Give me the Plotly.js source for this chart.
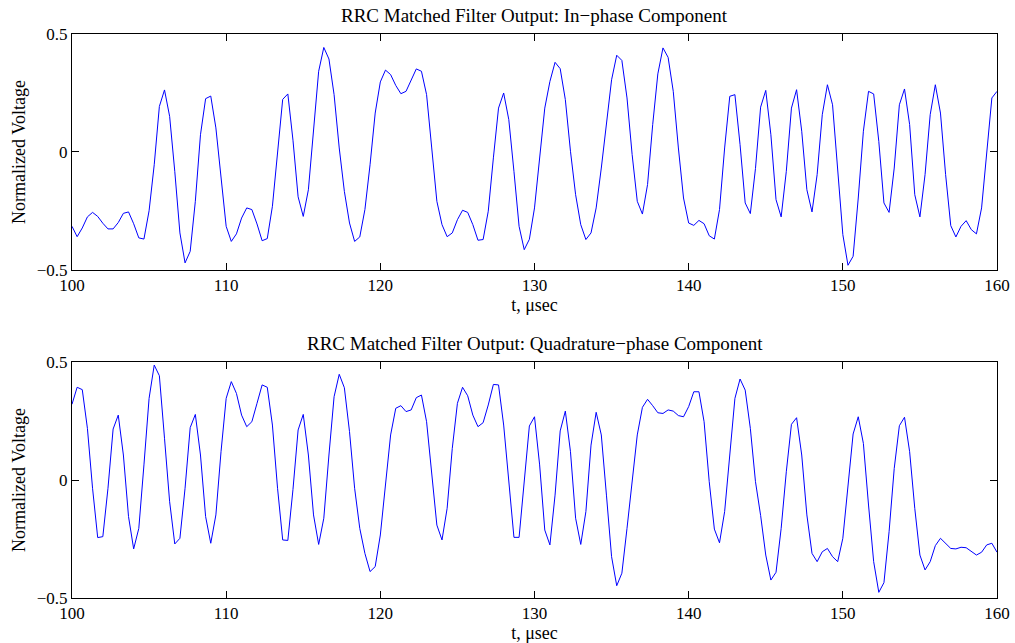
<!DOCTYPE html>
<html>
<head>
<meta charset="utf-8">
<script src="https://cdn.plot.ly/plotly-3.0.1.min.js"></script>
<style>html,body{margin:0;padding:0;background:#fff;}#chart{width:1015px;height:643px;}</style>
</head>
<body>
<div id="chart"></div>
<script>
// Sample grid: 3 samples per microsecond, starting at t = 100 µs
const tStart = 100;
const samplesPerUs = 3;

// In-phase component (normalized voltage)
const inPhase = [
 -0.315,-0.359,-0.322,-0.275,-0.256,-0.273,-0.302,-0.326,-0.326,-0.299,
 -0.260,-0.254,-0.304,-0.364,-0.369,-0.249,-0.054,0.193,0.263,0.151,
 -0.082,-0.343,-0.470,-0.421,-0.209,0.073,0.226,0.237,0.102,-0.110,
 -0.315,-0.379,-0.347,-0.280,-0.237,-0.244,-0.305,-0.376,-0.367,-0.230,
 0.003,0.223,0.246,0.050,-0.190,-0.273,-0.160,0.088,0.342,0.443,
 0.394,0.243,0.017,-0.167,-0.301,-0.379,-0.360,-0.244,-0.054,0.165,
 0.297,0.347,0.328,0.282,0.247,0.257,0.306,0.352,0.342,0.243,
 0.017,-0.209,-0.308,-0.359,-0.343,-0.287,-0.247,-0.256,-0.308,-0.374,
 -0.371,-0.251,-0.025,0.186,0.250,0.137,-0.082,-0.315,-0.414,-0.370,
 -0.237,-0.011,0.186,0.299,0.380,0.353,0.222,0.003,-0.181,-0.308,
 -0.371,-0.343,-0.237,-0.068,0.116,0.306,0.410,0.388,0.229,-0.011,
 -0.209,-0.263,-0.138,0.116,0.331,0.441,0.401,0.257,0.017,-0.195,
 -0.301,-0.311,-0.290,-0.304,-0.355,-0.369,-0.244,0.017,0.236,0.243,
 0.031,-0.216,-0.261,-0.070,0.190,0.261,0.073,-0.202,-0.275,-0.082,
 0.186,0.264,0.088,-0.160,-0.254,-0.096,0.158,0.285,0.200,-0.082,
 -0.350,-0.480,-0.442,-0.195,0.088,0.257,0.246,0.045,-0.216,-0.256,
 -0.068,0.200,0.267,0.116,-0.181,-0.275,-0.096,0.158,0.285,0.165,
 -0.096,-0.312,-0.360,-0.315,-0.291,-0.329,-0.347,-0.237,0.003,0.229,
 0.257
];

// Quadrature-phase component (normalized voltage)
const quadPhase = [
 0.321,0.393,0.383,0.219,-0.035,-0.244,-0.240,-0.035,0.216,0.275,
 0.106,-0.155,-0.292,-0.205,0.064,0.346,0.487,0.442,0.177,-0.092,
 -0.271,-0.247,-0.035,0.222,0.278,0.106,-0.155,-0.268,-0.148,0.120,
 0.346,0.417,0.367,0.275,0.226,0.247,0.325,0.403,0.393,0.233,
 -0.035,-0.254,-0.256,-0.040,0.212,0.278,0.106,-0.148,-0.273,-0.162,
 0.106,0.353,0.448,0.391,0.205,-0.035,-0.205,-0.311,-0.388,-0.367,
 -0.233,-0.014,0.191,0.304,0.315,0.290,0.297,0.349,0.360,0.247,
 0.021,-0.191,-0.254,-0.120,0.134,0.325,0.393,0.357,0.275,0.226,
 0.243,0.318,0.405,0.403,0.233,-0.021,-0.243,-0.243,-0.010,0.229,
 0.268,0.064,-0.212,-0.275,-0.064,0.208,0.292,0.120,-0.162,-0.273,
 -0.134,0.148,0.287,0.191,-0.064,-0.325,-0.448,-0.395,-0.205,-0.014,
 0.191,0.308,0.342,0.315,0.285,0.282,0.297,0.292,0.273,0.268,
 0.311,0.374,0.374,0.247,-0.007,-0.208,-0.266,-0.134,0.120,0.346,
 0.428,0.381,0.219,-0.007,-0.150,-0.318,-0.424,-0.391,-0.205,0.035,
 0.236,0.264,0.106,-0.148,-0.311,-0.346,-0.304,-0.290,-0.325,-0.346,
 -0.247,-0.021,0.195,0.268,0.155,-0.106,-0.346,-0.476,-0.435,-0.219,
 0.049,0.230,0.266,0.120,-0.120,-0.318,-0.381,-0.346,-0.278,-0.247,
 -0.268,-0.290,-0.292,-0.285,-0.287,-0.301,-0.318,-0.306,-0.275,-0.268,
 -0.306
];

const xTickVals = [100, 110, 120, 130, 140, 150, 160];
const xTickText = ['100', '110', '120', '130', '140', '150', '160'];
const yTickVals = [-0.5, 0, 0.5];
const yTickText = ['\u22120.5', '0', '0.5'];

const titleTop = 'RRC Matched Filter Output: In\u2212phase Component';
const titleBottom = 'RRC Matched Filter Output: Quadrature\u2212phase Component';
const xLabel = 't, \u03bcsec';
const yLabel = 'Normalized Voltage';

const tI = inPhase.map((_, i) => tStart + i / samplesPerUs);
const tQ = quadPhase.map((_, i) => tStart + i / samplesPerUs);

const FONT = 'Liberation Serif, Times New Roman, serif';

function xAxis(anchor) {
  return {
    anchor: anchor, range: [100, 160], tickvals: xTickVals, ticktext: xTickText,
    ticks: 'inside', ticklen: 7, tickcolor: '#000', tickwidth: 1,
    showline: true, linecolor: '#000', linewidth: 1, mirror: 'ticks',
    showgrid: false, zeroline: false,
    tickfont: {family: FONT, size: 17, color: '#000'},
    title: {text: xLabel, font: {family: FONT, size: 18, color: '#000'}, standoff: 1}
  };
}
function yAxis(anchor, domain) {
  return {
    anchor: anchor, domain: domain, range: [-0.5, 0.5], tickvals: yTickVals, ticktext: yTickText,
    ticks: 'inside', ticklen: 7, tickcolor: '#000', tickwidth: 1,
    showline: true, linecolor: '#000', linewidth: 1, mirror: 'ticks',
    showgrid: false, zeroline: false,
    tickfont: {family: FONT, size: 17, color: '#000'},
    title: {text: yLabel, font: {family: FONT, size: 18, color: '#000'}, standoff: 6}
  };
}

const data = [
  {x: tI, y: inPhase, type: 'scatter', mode: 'lines', line: {color: '#0000ff', width: 1}, xaxis: 'x', yaxis: 'y', hoverinfo: 'skip'},
  {x: tQ, y: quadPhase, type: 'scatter', mode: 'lines', line: {color: '#0000ff', width: 1}, xaxis: 'x2', yaxis: 'y2', hoverinfo: 'skip'}
];

const layout = {
  width: 1015, height: 643,
  margin: {l: 72, r: 18, t: 34, b: 45},
  paper_bgcolor: '#fff', plot_bgcolor: '#fff',
  showlegend: false,
  font: {family: FONT, color: '#000'},
  xaxis: xAxis('y'),
  yaxis: yAxis('x', [0.5816, 1]),
  xaxis2: xAxis('y2'),
  yaxis2: yAxis('x2', [0, 0.4184]),
  annotations: [
    {text: titleTop, xref: 'paper', yref: 'paper', x: 0.5, y: 1, yshift: 19, showarrow: false, xanchor: 'center', yanchor: 'middle', font: {family: FONT, size: 19, color: '#000'}},
    {text: titleBottom, xref: 'paper', yref: 'paper', x: 0.5, y: 0.4184, yshift: 19, showarrow: false, xanchor: 'center', yanchor: 'middle', font: {family: FONT, size: 19, color: '#000'}}
  ]
};

Plotly.newPlot('chart', data, layout, {staticPlot: true, displayModeBar: false});
</script>
</body>
</html>
